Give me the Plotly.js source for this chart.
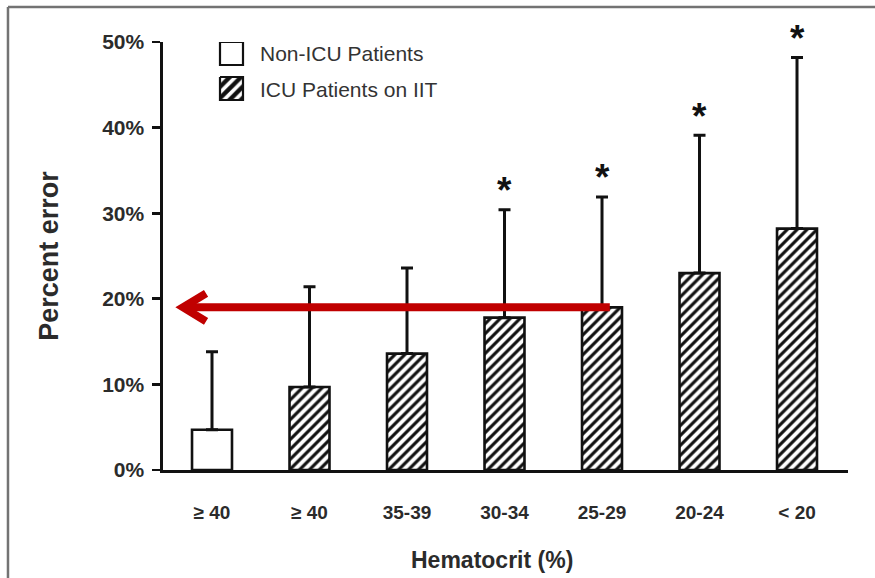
<!DOCTYPE html>
<html>
<head>
<meta charset="utf-8">
<script src="https://cdn.plot.ly/plotly-3.0.1.min.js"></script>
<style>
  html, body { margin: 0; padding: 0; background: #ffffff; }
  #chart { width: 875px; height: 578px; }
</style>
</head>
<body>
<div id="chart"></div>
<script>
// Hematocrit groups along the x axis
const categories = ['\u2265 40', '\u2265 40', '35-39', '30-34', '25-29', '20-24', '< 20'];
// Patient group of each bar (first bar: non-ICU, the rest: ICU on IIT)
const groups = ['Non-ICU Patients', 'ICU Patients on IIT', 'ICU Patients on IIT',
                'ICU Patients on IIT', 'ICU Patients on IIT', 'ICU Patients on IIT',
                'ICU Patients on IIT'];
// Mean percent error per group
const meanError = [4.7, 9.7, 13.6, 17.8, 19.0, 23.0, 28.2];
// Upper error bar (SD) per group
const sdError = [9.1, 11.7, 10.0, 12.6, 12.9, 16.1, 20.0];
// Significance marker per group
const significant = [false, false, false, true, true, true, true];
// Y axis ticks and their labels
const yTicks = [0, 10, 20, 30, 40, 50];
const yTickLabels = ['0%', '10%', '20%', '30%', '40%', '50%'];
// Group whose mean is carried back to the axis by the red arrow
const arrowFrom = 4;

const FONT = '"Liberation Sans", Arial, Helvetica, sans-serif';
const INK = '#111111';
const TEXT = '#2b2b2b';

const xIdx = categories.map((_, i) => i);

const bars = {
  type: 'bar',
  x: xIdx,
  y: meanError,
  width: 0.41,
  showlegend: false,
  hoverinfo: 'skip',
  marker: {
    color: '#ffffff',
    line: { color: INK, width: 2.6 },
    pattern: {
      shape: groups.map(g => g === 'Non-ICU Patients' ? '' : '/'),
      fgcolor: INK,
      bgcolor: '#ffffff',
      size: 7,
      solidity: 0.45
    }
  },
  error_y: {
    type: 'data',
    symmetric: false,
    array: sdError,
    arrayminus: sdError.map(() => 0),
    color: INK,
    thickness: 3,
    width: 6
  }
};

// Legend swatches drawn on a pixel-scaled overlay axis pair
function box(x0, y0, s) {
  return { x: [x0, x0 + s, x0 + s, x0, x0], y: [y0, y0, y0 + s, y0 + s, y0] };
}
const sw1 = box(220, 42, 23);
const sw2 = box(220, 77, 23);
const legendPlain = {
  type: 'scatter', mode: 'lines', xaxis: 'x2', yaxis: 'y2',
  x: sw1.x, y: sw1.y, fill: 'toself', fillcolor: '#ffffff',
  line: { color: INK, width: 2.2 }, showlegend: false, hoverinfo: 'skip'
};
const legendHatch = {
  type: 'scatter', mode: 'lines', xaxis: 'x2', yaxis: 'y2',
  x: sw2.x, y: sw2.y, fill: 'toself', fillcolor: '#ffffff',
  fillpattern: { shape: '/', fgcolor: INK, bgcolor: '#ffffff', size: 8, solidity: 0.55 },
  line: { color: INK, width: 2.2 }, showlegend: false, hoverinfo: 'skip'
};

const annotations = [];
xIdx.forEach(i => {
  if (significant[i]) {
    annotations.push({
      x: i, y: meanError[i] + sdError[i], xref: 'x', yref: 'y',
      text: '*', showarrow: false, yanchor: 'middle', yshift: 19,
      font: { family: FONT, size: 37, weight: 'bold', color: INK }
    });
  }
});
annotations.push(
  { x: 258, y: 53, xref: 'x2', yref: 'y2', text: 'Non-ICU Patients', showarrow: false,
    xanchor: 'left', yanchor: 'middle', font: { family: FONT, size: 21, color: '#333333' } },
  { x: 258, y: 89, xref: 'x2', yref: 'y2', text: 'ICU Patients on IIT', showarrow: false,
    xanchor: 'left', yanchor: 'middle', font: { family: FONT, size: 21, color: '#333333' } },
  { x: 0.48, y: -0.21, xref: 'paper', yref: 'paper', text: 'Hematocrit (%)', showarrow: false,
    xanchor: 'center', yanchor: 'middle',
    font: { family: FONT, size: 23, weight: 'bold', color: TEXT } }
);

const arrowLevel = meanError[arrowFrom];
const arrowTipX = -0.297;
const shapes = [
  // frame edges
  { type: 'line', xref: 'paper', yref: 'paper', x0: -0.2263, x1: -0.2263, y0: 1.0818, y1: -0.26,
    line: { color: '#737373', width: 2.5 } },
  { type: 'line', xref: 'paper', yref: 'paper', x0: -0.2263, x1: 1.05, y0: 1.0818, y1: 1.0818,
    line: { color: '#737373', width: 2.5 } },
  // red arrow shaft
  { type: 'line', xref: 'x', yref: 'y', x0: arrowTipX, x1: arrowFrom + 0.08,
    y0: arrowLevel, y1: arrowLevel, line: { color: '#C00000', width: 8 } },
  // red arrow head
  { type: 'path', xref: 'x', yref: 'y', xsizemode: 'pixel', ysizemode: 'pixel',
    xanchor: arrowTipX, yanchor: arrowLevel, path: 'M 23 14 L 0 0 L 23 -14',
    line: { color: '#C00000', width: 8 } }
];

const layout = {
  width: 875, height: 578,
  margin: { l: 163, r: 27, t: 42, b: 108, pad: 0 },
  paper_bgcolor: '#ffffff', plot_bgcolor: 'rgba(0,0,0,0)',
  showlegend: false,
  font: { family: FONT, color: TEXT },
  xaxis: {
    range: [-0.5026, 6.523], fixedrange: true,
    tickmode: 'array', tickvals: xIdx, ticktext: categories,
    ticks: '', ticklabelstandoff: 24,
    tickfont: { family: FONT, size: 19, weight: 'bold', color: TEXT },
    showgrid: false, zeroline: false,
    showline: true, linecolor: INK, linewidth: 2.6
  },
  yaxis: {
    range: [0, 50], fixedrange: true,
    tickmode: 'array', tickvals: yTicks, ticktext: yTickLabels,
    ticks: 'outside', ticklen: 8, tickwidth: 2.6, tickcolor: INK, ticklabelstandoff: 4,
    tickfont: { family: FONT, size: 21, weight: 'bold', color: TEXT },
    showgrid: false, zeroline: false,
    showline: true, linecolor: INK, linewidth: 2.6,
    title: { text: 'Percent error', standoff: 36,
             font: { family: FONT, size: 27, weight: 'bold', color: TEXT } }
  },
  xaxis2: { overlaying: 'x', range: [163, 848], visible: false, fixedrange: true },
  yaxis2: { overlaying: 'y', range: [470, 42], visible: false, fixedrange: true },
  shapes: shapes,
  annotations: annotations
};

Plotly.newPlot('chart', [bars, legendPlain, legendHatch], layout,
  { displayModeBar: false, staticPlot: true });
</script>
</body>
</html>
